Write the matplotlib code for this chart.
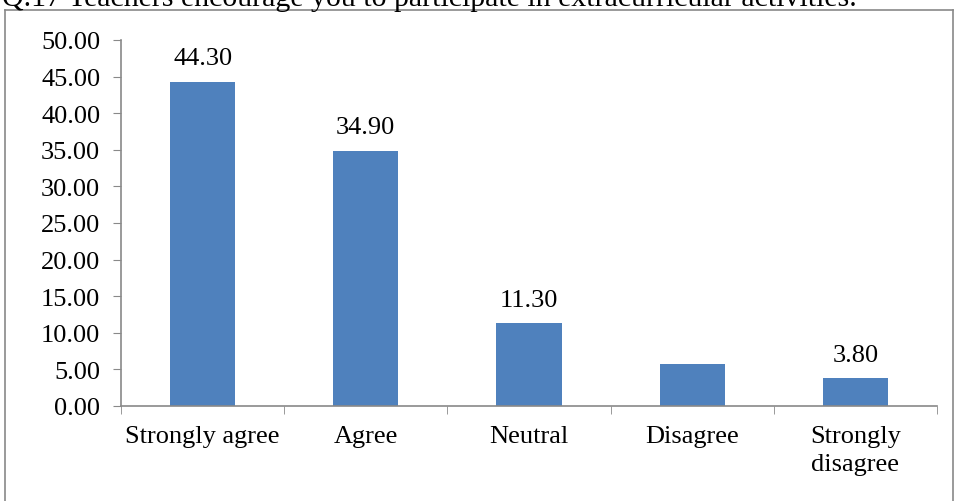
import numpy as np
import matplotlib.pyplot as plt
from matplotlib.lines import Line2D

categories = ['Strongly agree', 'Agree', 'Neutral', 'Disagree', 'Strongly\ndisagree']
values = [44.30, 34.90, 11.30, 5.70, 3.80]
shown = [True, True, True, False, True]
title = 'Q.17 Teachers encourage you to participate in extracurricular activities.'

plt.rcParams['font.family'] = ['Liberation Serif', 'DejaVu Serif']

fig = plt.figure(figsize=(9.55, 5.02), dpi=100)
W, H = 955, 502
ax = fig.add_axes([121 / W, (H - 407) / H, (937 - 121) / W, (407 - 41) / H])

x = np.arange(len(categories))
bars = ax.bar(x, values, width=0.4, color='#4f81bd', zorder=2)
for b, v, s in zip(bars, values, shown):
    if s:
        ax.text(b.get_x() + b.get_width() / 2, v + 1.7, '%.2f' % v,
                ha='center', va='bottom', fontsize=19)

ax.set_xlim(-0.5, len(categories) - 0.5)
ax.set_ylim(0, 50)
ax.set_yticks(np.arange(0, 50.01, 5))
ax.set_yticklabels(['%.2f' % t for t in np.arange(0, 50.01, 5)])
ax.set_xticks(x)
ax.set_xticklabels(categories, fontsize=19, linespacing=1.3)
ax.set_xticks(np.arange(-0.5, len(categories), 1), minor=True)
ax.tick_params(axis='x', which='major', length=0, pad=14)
ax.tick_params(axis='x', which='minor', length=6, color='#898989', direction='out')
ax.tick_params(axis='y', length=6, color='#898989', labelsize=19, pad=9)
for sp in ['top', 'right']:
    ax.spines[sp].set_visible(False)
for sp in ['left', 'bottom']:
    ax.spines[sp].set_color('#898989')
    ax.spines[sp].set_linewidth(1.2)

# outer chart border
top = (H - 11) / H
fig.add_artist(Line2D([5 / W, 5 / W], [0, top], color='#898989', lw=1.2))
fig.add_artist(Line2D([5 / W, 953 / W], [top, top], color='#898989', lw=1.2))
fig.add_artist(Line2D([953 / W, 953 / W], [0, top], color='#898989', lw=1.2))

fig.text(2 / W, (H - 12) / H, title, fontsize=21.5, ha='left', va='bottom')

fig.savefig('out.png', dpi=100)
